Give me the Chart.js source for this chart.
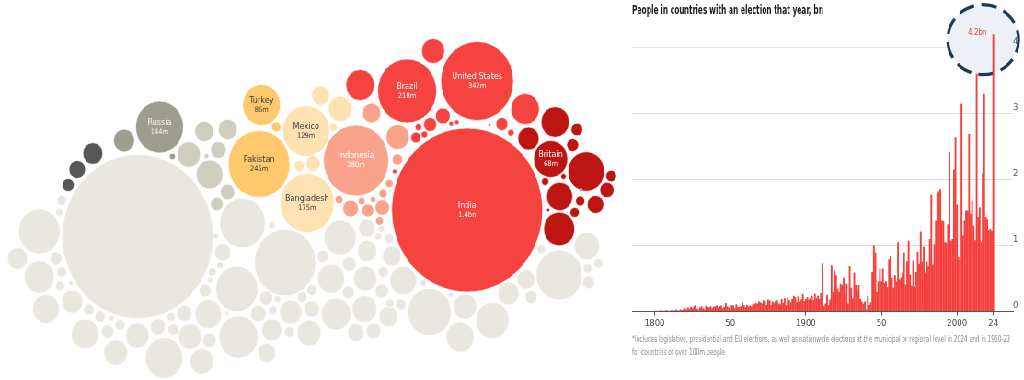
<!DOCTYPE html>
<html><head><meta charset="utf-8">
<script src="https://cdn.jsdelivr.net/npm/chart.js"></script>
<style>
html,body{margin:0;padding:0;background:#fff;overflow:hidden;width:1024px;height:380px}
#wrap{position:absolute;left:0;top:0;width:1113px;height:380px;transform:scaleX(0.92);transform-origin:0 0}
#bubbles{position:absolute;left:0;top:0}
#bars{position:absolute;left:674px;top:0}
</style></head><body>
<div id="wrap"><canvas id="bubbles" width="685" height="380"></canvas><canvas id="bars" width="439" height="380"></canvas></div>
<script>
const FONT = "'Liberation Sans Narrow','DejaVu Sans Condensed','Roboto',sans-serif";

// ---------- Bubble data: [x, y, r, name, value] ----------
const bubblesRed = [
 [467,210,82,'India','1.4bn'],[477,81,39.5,'United States','342m'],[407,91,32,'Brazil','218m'],
 [433,51,12.5],[360,85,15.5],[525,109,15.5],[442.7,116,8],[430,124.5,7],[418.3,127,3.6],[415.7,137.5,5.4],
 [424.3,134.5,3.6],[451,123.7,2.5],[456.7,122.3,2.5],[489.3,125,1.5],[501.7,124,6.5],[510.7,132.7,3.6],[394.5,171.5,2.5]
];
const bubblesDarkRed = [
 [550.5,159,18.5,'Britain','68m'],[555,122,15.3],[528.3,138.5,11.5],[576.7,129.5,6.3],[572.5,145,6.5],[586,171.5,19.8],
 [563.3,176.5,2.9],[545,181.5,4],[611,176,5.8],[606.7,190,7.7],[559.5,196.5,14.2],[580,201,5],[595.3,204.5,9],
 [574.5,212.5,5],[548,210,1.8],[559,229,16.8],[580.7,190,1.5]
];
const bubblesSalmon = [
 [356,160.5,35.5,'Indonesia','280m'],[371.5,113,10],[397.5,137,12.6],[397.3,159.5,5.7],[389.3,183.5,4.3],[383,193.5,4.5],
 [382.2,207.5,7.8],[373,199.5,3],[367.7,210.5,6.5],[361.5,201,3.8],[350.5,208.5,8.5],[339,199.5,4.3],[379.4,221,4.3]
];
const bubblesPaleYellow = [
 [306,131,25.5,'Mexico','129m'],[307,203,29.5,'Bangladesh','175m'],[320.5,95.5,9.7],[340,109,12.8],[333.3,127,4.1],
 [299,166,5.5],[313,163.5,7.7]
];
const bubblesYellow = [
 [259,164,33.5,'Pakistan','245m'],[261.5,105,20.5,'Turkey','86m'],[276,127,5]
];
const bubblesRussiaGrey = [
 [159.5,127,26,'Russia','144m'],[124,140.5,11.4],[172.3,156.5,3.3]
];
const bubblesDarkGrey = [
 [92.8,153.5,10.8],[77.2,169.5,9],[68.2,185,6.5]
];
const bubblesGreyGreen = [
 [204,131.5,10.2],[227.5,129.5,10.2],[188.7,154.5,12.8],[206.5,156,2.6],[218.2,150,8.4],[209.5,174.5,14.5],
 [227.5,192,7.8],[216.7,204,6.8]
];
const bubblesLight = [
 [137.7,236.5,82],[39.3,231.5,22.5],[17.5,258.5,10.8],[39.3,277,16.3],[46,309,14.5],[61.7,200.5,5.2],[59.3,212.5,4],
 [56,258.5,6.4],[61.7,272,5.4],[60,286,5],[70.7,283,2.5],[72.3,301.5,11.5],[89,309.5,5.6],[85,334,15],[100,316.5,5.8],
 [107.5,331.5,6.8],[111.7,318,2.9],[120,325,5.4],[115.7,352.5,12.8],[137.3,335.5,12.7],[157.7,327,8.2],[164,358,20.3],
 [171,317,4.3],[173.3,329.5,5.8],[184.3,313.5,8],[190,336.5,12.7],[201.7,361.5,12.8],[209.3,340.5,7.2],[208.3,314,14.5],
 [226.7,313,2.2],[205,290.5,6.5],[210,280,2.9],[212.3,272,4.3],[220,265,3.6],[222.7,252.5,8.8],[215.7,236,2.9],
 [242.5,223,24.8],[271.7,225,3.6],[236.7,289,22.8],[238.3,337,21.2],[266,298,7.2],[277.3,299,3.6],[258.3,313.5,8.3],
 [272.7,310,4.3],[271.7,330,10.9],[266.7,353,9.8],[289.3,332,5.4],[290.7,312,12],[285,262.5,33.3],[302.3,297,5.4],
 [311.7,290,5.4],[311.7,309,8.3],[309,333,13],[322.7,256.5,6.2],[331,278.5,14.7],[336,314,16],[340,237.5,17.5],
 [349.3,264,7.2],[348.3,292.5,6.5],[355.7,332.5,9],[365,278.5,12.5],[367,251,10.6],[366.7,228,9],[364.3,309,13.5],
 [381.7,291,7.2],[373.3,331,8],[383.3,272,5.4],[388.3,316.5,10.1],[391.7,256,10.1],[389.3,238.5,5],[378.3,236.5,3.6],
 [381.5,229,3.5],[390,303.3,4.3],[400.5,304.5,5.6],[403.2,280.5,14.5],[429.3,312,23.6],[423.3,283,3.6],[450.7,295,2.9],
 [465,306.5,12.7],[460,337,15.2],[492.3,320.5,18.1],[508.3,293.5,11.6],[525.7,279.5,9.8],[531,297,6.5],[541,249.5,4.7],
 [559,275,25],[586.7,246,13.8],[587.3,268.3,4.7],[598.3,263.3,4.7],[588.3,282.3,6.5]
];

// ---------- Bar data ----------
const firstYear = 1789;
const peopleBn = [
 0.004,0,0,0.004,0,0,0,0.005,0,0,0.008,
 0.01,0.01,0.005,0.01,0.02,0.01,0.01,0.015,0.02,0.01,
 0.01,0.02,0.02,0.01,0.03,0.02,0.01,0.03,0.02,0.03,
 0.05,0.03,0.06,0.04,0.07,0.05,0.08,0.1,0.04,0.03,
 0.06,0.08,0.05,0.03,0.09,0.07,0.06,0.08,0.05,0.07,
 0.08,0.09,0.06,0.08,0.09,0.05,0.07,0.13,0.08,0.06,
 0.05,0.1,0.09,0.05,0.11,0.07,0.07,0.08,0.14,0.1,
 0.07,0.1,0.08,0.09,0.08,0.12,0.11,0.13,0.12,0.15,
 0.14,0.12,0.17,0.16,0.1,0.18,0.17,0.1,0.15,0.13,
 0.16,0.17,0.12,0.11,0.19,0.13,0.2,0.1,0.21,0.17,
 0.14,0.19,0.24,0.22,0.14,0.23,0.15,0.18,0.27,0.16,
 0.19,0.22,0.18,0.2,0.24,0.17,0.27,0.2,0.24,0.19,
 0.28,0.73,0.08,0.12,0.25,0.1,0.18,0.7,0.3,0.62,
 0.55,0.35,0.3,0.42,0.4,0.51,0.26,0.42,0.12,0.69,
 0.36,0.2,0.59,0.4,0.32,0.4,0.19,0.15,0.12,0.15,
 0.03,0.24,0.1,0.14,0.6,1.0,0.89,0.3,0.46,0.65,
 0.46,0.65,0.43,0.46,0.37,0.79,0.84,0.51,0.36,0.55,
 0.45,1.05,0.49,0.52,0.59,0.89,0.41,0.76,1.07,0.56,
 0.39,0.77,0.37,0.6,0.9,0.72,1.21,0.76,0.98,0.59,
 0.76,0.68,1.1,1.77,0.71,1.02,1.38,1.8,1.82,1.85,
 1.38,1.37,1.05,1.04,1.32,2.42,1.07,1.1,2.15,2.64,
 1.62,0.82,0.77,3.15,1.15,1.38,1.53,1.53,2.69,1.48,
 1.68,1.3,1.08,3.6,1.43,1.58,1.05,2.09,3.3,1.43,
 1.4,1.23,1.25,1.22,4.2
];
const years = peopleBn.map((_, i) => firstYear + i);
const xTickYears = [1800, 1850, 1900, 1950, 2000, 2024];
const xTickLabels = ['1800', '50', '1900', '50', '2000', '24'];
const yTickValues = [0, 1, 2, 3, 4];
const titleText = 'People in countries with an election that year, bn';
const noteLines = ['*Includes legislative, presidential and EU elections, as well as nationwide elections at the municipal or regional level in 2024 and in 1950-23',
  'for countries of over 100m people'];
const peakLabel = '4.2bn';

// ---------- Bubble chart ----------
const groups = [
 {pts: bubblesLight, color: '#e9e7df', text: '#333'},
 {pts: bubblesGreyGreen, color: '#cfcdbf', text: '#333'},
 {pts: bubblesRussiaGrey, color: '#9f9d90', text: '#f4f4ef'},
 {pts: bubblesDarkGrey, color: '#575654', text: '#fff'},
 {pts: bubblesYellow, color: '#fec96c', text: '#3a3a3a'},
 {pts: bubblesPaleYellow, color: '#fee2b1', text: '#3a3a3a'},
 {pts: bubblesSalmon, color: '#f9a38c', text: '#fff'},
 {pts: bubblesRed, color: '#f5433f', text: '#fff'},
 {pts: bubblesDarkRed, color: '#bd1612', text: '#fff'}
];
const bubbleLabels = {
 id: 'bubbleLabels',
 afterDatasetsDraw(chart) {
  const ctx = chart.ctx;
  ctx.save();
  ctx.textAlign = 'center'; ctx.textBaseline = 'middle';
  chart.data.datasets.forEach((ds, i) => {
   const meta = chart.getDatasetMeta(i);
   ds.data.forEach((d, j) => {
    if (!d.name) return;
    const el = meta.data[j];
    ctx.fillStyle = ds.labelColor;
    ctx.font = '9px ' + FONT;
    ctx.fillText(d.name, el.x, el.y - 4.5);
    ctx.font = '7.5px ' + FONT;
    ctx.fillText(d.val, el.x, el.y + 5);
   });
  });
  ctx.restore();
 }
};
new Chart(document.getElementById('bubbles'), {
 type: 'bubble',
 data: {datasets: groups.map(g => ({
  data: g.pts.map(p => ({x: p[0], y: p[1], r: p[2], name: p[3], val: p[4]})),
  backgroundColor: g.color, borderColor: '#ffffff', borderWidth: 0.7, labelColor: g.text, clip: false
 }))},
 options: {
  responsive: false, animation: false, events: [],
  layout: {padding: 0, autoPadding: false},
  plugins: {legend: {display: false}, tooltip: {enabled: false}},
  scales: {
   x: {type: 'linear', min: 0, max: 630, display: false},
   y: {type: 'linear', min: 0, max: 380, reverse: true, display: false}
  }
 },
 plugins: [bubbleLabels]
});

// ---------- Bar chart ----------
const barDecor = {
 id: 'barDecor',
 beforeDatasetsDraw(chart) {
  const ctx = chart.ctx, xs = chart.scales.x, ys = chart.scales.y;
  const last = years.length - 1;
  const cx = xs.getPixelForValue(years[last]) - 11;
  const cy = ys.getPixelForValue(peopleBn[last]) + 5.5;
  ctx.save();
  ctx.beginPath();
  ctx.ellipse(cx, cy, 38.5, 35, 0, 0, Math.PI * 2);
  ctx.fillStyle = '#edf0f5';
  ctx.fill();
  ctx.setLineDash([17, 8]);
  ctx.lineDashOffset = 4;
  ctx.lineWidth = 3.2;
  ctx.strokeStyle = '#1c3a58';
  ctx.stroke();
  ctx.restore();
 },
 afterDraw(chart) {
  const ctx = chart.ctx, xs = chart.scales.x, ys = chart.scales.y, ca = chart.chartArea;
  const last = years.length - 1;
  ctx.save();
  ctx.textBaseline = 'middle'; ctx.textAlign = 'left';
  ctx.fillStyle = '#1a1a1a';
  ctx.font = 'bold 11.5px ' + FONT;
  ctx.fillText(titleText, ca.left, 11, 208);
  ctx.fillStyle = '#8a8a8a';
  ctx.font = '9.5px ' + FONT;
  ctx.fillText(noteLines[0], ca.left, 339.5, 411);
  ctx.fillText(noteLines[1], ca.left, 352.5, 101);
  ctx.fillStyle = '#ea4540';
  ctx.font = '8px ' + FONT;
  ctx.textAlign = 'right';
  ctx.fillText(peakLabel, xs.getPixelForValue(years[last]) - 7, ys.getPixelForValue(peopleBn[last]) - 1);
  ctx.restore();
 }
};
new Chart(document.getElementById('bars'), {
 type: 'bar',
 data: {datasets: [{
  data: years.map((y, i) => ({x: y, y: peopleBn[i]})),
  backgroundColor: '#f4403c', borderWidth: 0, barPercentage: 1.15, categoryPercentage: 1
 }]},
 options: {
  responsive: false, animation: false, events: [],
  layout: {padding: {left: 13, top: 21, right: 0, bottom: 0}},
  plugins: {legend: {display: false}, tooltip: {enabled: false}},
  scales: {
   x: {
    type: 'linear', min: 1785, max: 2037, offset: false,
    afterBuildTicks: s => { s.ticks = xTickYears.map(v => ({value: v})); },
    afterFit: s => { s.height = 68.5; },
    grid: {display: true, offset: false, drawOnChartArea: false, drawTicks: true, tickLength: 4, color: '#555'},
    border: {display: true, color: '#555', width: 1},
    ticks: {autoSkip: false, maxRotation: 0, padding: 2, color: '#444',
      font: {size: 9.5, family: FONT},
      callback: v => xTickLabels[xTickYears.indexOf(v)]}
   },
   y: {
    position: 'right', min: 0, max: 4.4,
    afterBuildTicks: s => { s.ticks = yTickValues.map(v => ({value: v})); },
    afterFit: s => { s.width = 12; },
    grid: {drawTicks: false, color: c => (c.tick && c.tick.value === 0) ? 'rgba(0,0,0,0)' : '#dedede', lineWidth: 1},
    border: {display: false},
    ticks: {padding: 0, labelOffset: -6, z: 1, color: '#555', font: {size: 9.5, family: FONT}}
   }
  }
 },
 plugins: [barDecor]
});
</script></body></html>
